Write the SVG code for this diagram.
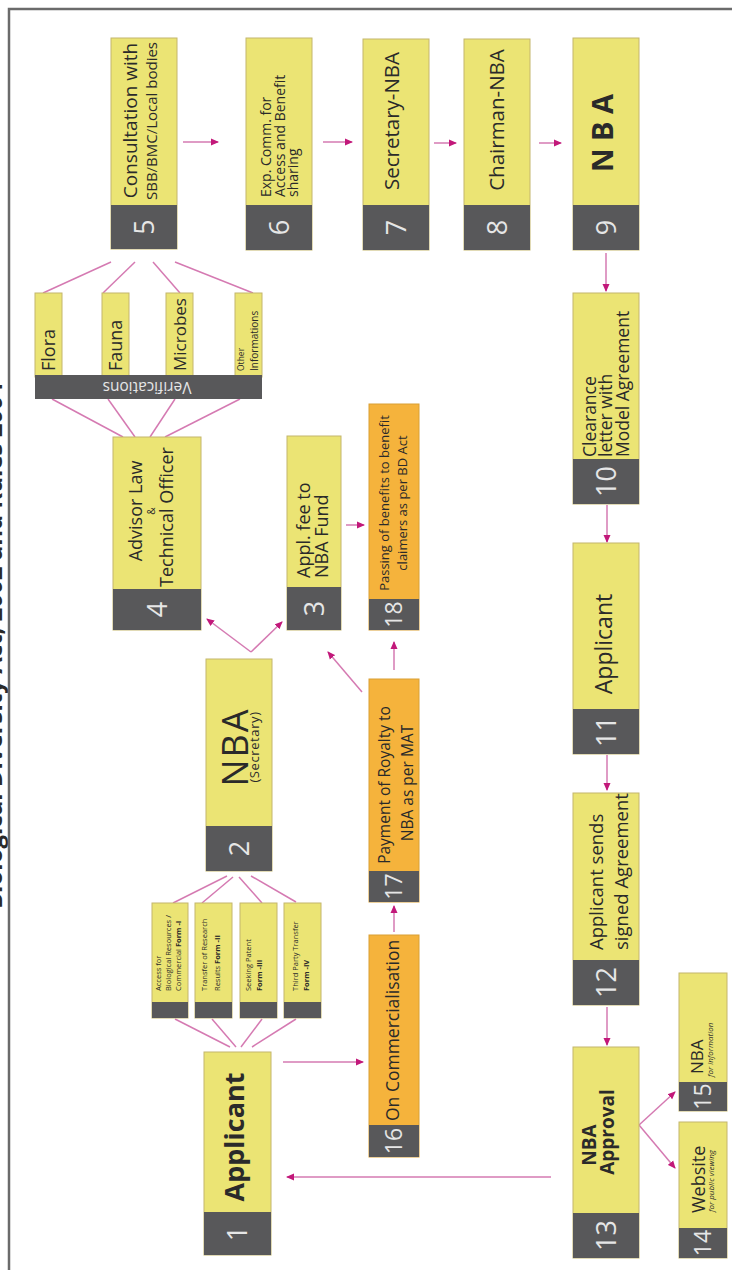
<svg xmlns="http://www.w3.org/2000/svg" width="732" height="1270" viewBox="0 0 732 1270">
<defs>
<marker id="ah" markerWidth="8" markerHeight="8" refX="7" refY="4" orient="auto" markerUnits="userSpaceOnUse">
<path d="M0,0.5 L8,4 L0,7.5 z" fill="#c2187a"/>
</marker>
<style>
.y{fill:#ebe474;stroke:#c4b66c;stroke-width:1}
.o{fill:#f5b33c;stroke:#d9a035;stroke-width:1}
.d{fill:#58585a}
.n{font-family:"Open Sans","Liberation Sans",sans-serif;fill:#e6e6e6;text-anchor:middle}
.t{font-family:"Open Sans","Liberation Sans",sans-serif;fill:#2a2a2a}
.m{text-anchor:middle}
.b{font-weight:bold}
.c{stroke:#d57ab2;stroke-width:1.5;fill:none}
.a{stroke:#d57ab2;stroke-width:1.5;fill:none;marker-end:url(#ah)}
</style>
</defs>
<rect width="732" height="1270" fill="#ffffff"/>
<text class="t b" transform="translate(1.5,909) rotate(-90)" font-size="24" fill="#1a1a1a">Biological Diversity Act, 2002 and Rules 2004</text>
<path d="M9,1275 V9 H740" fill="none" stroke="#6b6b6b" stroke-width="2.5"/>

<g id="connectors">
<line class="c" x1="111" y1="262" x2="43" y2="293"/>
<line class="c" x1="135" y1="262" x2="103" y2="293"/>
<line class="c" x1="153" y1="262" x2="180" y2="293"/>
<line class="c" x1="175" y1="262" x2="253" y2="293"/>
<line class="c" x1="52" y1="399" x2="123" y2="437"/>
<line class="c" x1="108" y1="399" x2="135" y2="437"/>
<line class="c" x1="175" y1="399" x2="150" y2="437"/>
<line class="c" x1="240" y1="399" x2="165" y2="437"/>
<line class="c" x1="227" y1="876" x2="173" y2="903"/>
<line class="c" x1="233" y1="877" x2="202" y2="903"/>
<line class="c" x1="239" y1="877" x2="262" y2="903"/>
<line class="c" x1="251" y1="876" x2="296" y2="902"/>
<line class="c" x1="175" y1="1019" x2="230" y2="1047"/>
<line class="c" x1="212" y1="1019" x2="236" y2="1047"/>
<line class="c" x1="262" y1="1019" x2="241" y2="1047"/>
<line class="c" x1="296" y1="1019" x2="252" y2="1047"/>
<line class="a" x1="251" y1="652" x2="207" y2="619"/>
<line class="a" x1="251" y1="652" x2="282" y2="622"/>
<line class="a" x1="362" y1="692" x2="328" y2="652"/>
<line class="a" x1="346" y1="525" x2="364" y2="525"/>
<line class="a" x1="283" y1="1062" x2="363" y2="1062"/>
<line class="a" x1="551" y1="1177" x2="287" y2="1177"/>
<line class="a" x1="394" y1="932" x2="394" y2="906"/>
<line class="a" x1="394" y1="670" x2="394" y2="642"/>
<line class="a" x1="183" y1="142" x2="218" y2="142"/>
<line class="a" x1="323" y1="142" x2="352" y2="142"/>
<line class="a" x1="434" y1="143" x2="456" y2="143"/>
<line class="a" x1="539" y1="143" x2="561" y2="143"/>
<line class="a" x1="606" y1="253" x2="606" y2="291"/>
<line class="a" x1="607" y1="505" x2="607" y2="542"/>
<line class="a" x1="607" y1="755" x2="607" y2="790"/>
<line class="a" x1="607" y1="1007" x2="607" y2="1045"/>
<line class="a" x1="639" y1="1125" x2="675" y2="1092"/>
<line class="a" x1="639" y1="1125" x2="675" y2="1168"/>
</g>

<g id="node1">
<rect class="y" x="204" y="1052" width="67" height="203"/>
<rect class="d" x="204" y="1212" width="67" height="43"/>
<text class="t m b" transform="translate(244,1137) rotate(-90)" font-size="27">Applicant</text>
<text class="n" transform="translate(247,1233.5) rotate(-90)" font-size="27">1</text>
</g>

<g id="node2">
<rect class="y" x="206" y="659" width="66" height="212"/>
<rect class="d" x="206" y="826" width="66" height="45"/>
<text class="t m" transform="translate(248,747) rotate(-90)" font-size="36" letter-spacing="2">NBA</text>
<text class="t m" transform="translate(259,747) rotate(-90)" font-size="13" letter-spacing="0.6">(Secretary)</text>
<text class="n" transform="translate(248.5,848.5) rotate(-90)" font-size="27">2</text>
</g>

<g id="node3">
<rect class="y" x="287" y="436" width="54" height="194"/>
<rect class="d" x="287" y="587" width="54" height="43"/>
<text class="t" transform="translate(310,578) rotate(-90)" font-size="18">Appl. fee to</text>
<text class="t" transform="translate(328,578) rotate(-90)" font-size="18">NBA Fund</text>
<text class="n" transform="translate(323.5,608.5) rotate(-90)" font-size="27">3</text>
</g>

<g id="node4">
<rect class="y" x="113" y="437" width="88" height="193"/>
<rect class="d" x="113" y="589" width="88" height="41"/>
<text class="t m" transform="translate(142,511) rotate(-90)" font-size="18">Advisor Law</text>
<text class="t m" transform="translate(155,511) rotate(-90)" font-size="10">&amp;</text>
<text class="t m" transform="translate(173,517) rotate(-90)" font-size="18">Technical Officer</text>
<text class="n" transform="translate(166.5,609.5) rotate(-90)" font-size="27">4</text>
</g>

<g id="node5">
<rect class="y" x="111" y="38" width="66" height="211"/>
<rect class="d" x="111" y="205" width="66" height="44"/>
<text class="t m" transform="translate(137,120.5) rotate(-90)" font-size="19">Consultation with</text>
<text class="t m" transform="translate(157,121) rotate(-90)" font-size="15">SBB/BMC/Local bodies</text>
<text class="n" transform="translate(153.5,227) rotate(-90)" font-size="27">5</text>
</g>

<g id="node6">
<rect class="y" x="246" y="38" width="66" height="212"/>
<rect class="d" x="246" y="205" width="66" height="45"/>
<text class="t" transform="translate(271,197) rotate(-90)" font-size="14">Exp. Comm. for</text>
<text class="t" transform="translate(285,197) rotate(-90)" font-size="14">Access and Benefit</text>
<text class="t" transform="translate(298,197) rotate(-90)" font-size="14">sharing</text>
<text class="n" transform="translate(288.5,227.5) rotate(-90)" font-size="27">6</text>
</g>

<g id="node7">
<rect class="y" x="363" y="39" width="66" height="211"/>
<rect class="d" x="363" y="205" width="66" height="45"/>
<text class="t m" transform="translate(399,121) rotate(-90)" font-size="20.5">Secretary-NBA</text>
<text class="n" transform="translate(405.5,227.5) rotate(-90)" font-size="27">7</text>
</g>

<g id="node8">
<rect class="y" x="464" y="39" width="66" height="211"/>
<rect class="d" x="464" y="205" width="66" height="45"/>
<text class="t m" transform="translate(504,120) rotate(-90)" font-size="20.5">Chairman-NBA</text>
<text class="n" transform="translate(506.5,227.5) rotate(-90)" font-size="27">8</text>
</g>

<g id="node9">
<rect class="y" x="573" y="38" width="66" height="212"/>
<rect class="d" x="573" y="205" width="66" height="45"/>
<text class="t m b" transform="translate(613,133) rotate(-90)" font-size="29">N B A</text>
<text class="n" transform="translate(615.5,227.5) rotate(-90)" font-size="27">9</text>
</g>

<g id="node10">
<rect class="y" x="573" y="293" width="66" height="211"/>
<rect class="d" x="573" y="459" width="66" height="45"/>
<text class="t" transform="translate(596,457) rotate(-90)" font-size="17.5">Clearance</text>
<text class="t" transform="translate(612,457) rotate(-90)" font-size="17.5">letter with</text>
<text class="t" transform="translate(629,457) rotate(-90)" font-size="17.5">Model Agreement</text>
<text class="n" transform="translate(615.5,481.5) rotate(-90)" font-size="27">10</text>
</g>

<g id="node11">
<rect class="y" x="573" y="543" width="66" height="211"/>
<rect class="d" x="573" y="709" width="66" height="45"/>
<text class="t m" transform="translate(612,644) rotate(-90)" font-size="23">Applicant</text>
<text class="n" transform="translate(615.5,731.5) rotate(-90)" font-size="27">11</text>
</g>

<g id="node12">
<rect class="y" x="573" y="793" width="66" height="212"/>
<rect class="d" x="573" y="960" width="66" height="45"/>
<text class="t" transform="translate(603,950) rotate(-90)" font-size="18.5">Applicant sends</text>
<text class="t" transform="translate(628,950) rotate(-90)" font-size="18.5">signed Agreement</text>
<text class="n" transform="translate(615.5,982.5) rotate(-90)" font-size="27">12</text>
</g>

<g id="node13">
<rect class="y" x="573" y="1047" width="66" height="211"/>
<rect class="d" x="573" y="1213" width="66" height="45"/>
<text class="t m b" transform="translate(596,1145) rotate(-90)" font-size="19">NBA</text>
<text class="t m b" transform="translate(614,1132) rotate(-90)" font-size="19">Approval</text>
<text class="n" transform="translate(615.5,1235.5) rotate(-90)" font-size="27">13</text>
</g>

<g id="node14">
<rect class="y" x="679" y="1122" width="48" height="136"/>
<rect class="d" x="679" y="1228" width="48" height="30"/>
<text class="t" transform="translate(705,1213) rotate(-90)" font-size="18">Website</text>
<text class="t" transform="translate(714,1212) rotate(-90)" font-size="8" font-style="italic">for public viewing</text>
<text class="n" transform="translate(711,1243) rotate(-90)" font-size="23">14</text>
</g>

<g id="node15">
<rect class="y" x="679" y="973" width="48" height="138"/>
<rect class="d" x="679" y="1082" width="48" height="29"/>
<text class="t" transform="translate(703,1074) rotate(-90)" font-size="17">NBA</text>
<text class="t" transform="translate(713,1077) rotate(-90)" font-size="8" font-style="italic">for information</text>
<text class="n" transform="translate(711,1096.5) rotate(-90)" font-size="23">15</text>
</g>

<g id="node16">
<rect class="o" x="369" y="935" width="50" height="222"/>
<rect class="d" x="369" y="1125" width="50" height="32"/>
<text class="t" transform="translate(399,1121) rotate(-90)" font-size="17.5">On Commercialisation</text>
<text class="n" transform="translate(402,1141) rotate(-90)" font-size="23">16</text>
</g>

<g id="node17">
<rect class="o" x="369" y="679" width="50" height="223"/>
<rect class="d" x="369" y="871" width="50" height="31"/>
<text class="t m" transform="translate(390,785) rotate(-90)" font-size="15.5">Payment of Royalty to</text>
<text class="t m" transform="translate(413,783) rotate(-90)" font-size="15.5">NBA as per MAT</text>
<text class="n" transform="translate(402,886.5) rotate(-90)" font-size="23">17</text>
</g>

<g id="node18">
<rect class="o" x="369" y="404" width="50" height="226"/>
<rect class="d" x="369" y="599" width="50" height="31"/>
<text class="t m" transform="translate(389,503) rotate(-90)" font-size="13">Passing of benefits to benefit</text>
<text class="t m" transform="translate(407,503) rotate(-90)" font-size="13">claimers as per BD Act</text>
<text class="n" transform="translate(402,614.5) rotate(-90)" font-size="23">18</text>
</g>

<g id="form1">
<rect class="y" x="152" y="903" width="36" height="115"/>
<rect class="d" x="152" y="1002" width="36" height="16"/>
<text class="t" transform="translate(161,991) rotate(-90)" font-size="7.5">Access for</text>
<text class="t" transform="translate(171,991) rotate(-90)" font-size="7.5">Biological Resources /</text>
<text class="t" transform="translate(181,991) rotate(-90)" font-size="7.5">Commercial <tspan class="b">Form -I</tspan></text>
</g>
<g id="form2">
<rect class="y" x="195" y="903" width="37" height="115"/>
<rect class="d" x="195" y="1002" width="37" height="16"/>
<text class="t" transform="translate(207,991) rotate(-90)" font-size="7.5">Transfer of Research</text>
<text class="t" transform="translate(220,991) rotate(-90)" font-size="7.5">Results <tspan class="b">Form -II</tspan></text>
</g>
<g id="form3">
<rect class="y" x="240" y="903" width="37" height="115"/>
<rect class="d" x="240" y="1002" width="37" height="16"/>
<text class="t" transform="translate(251,991) rotate(-90)" font-size="7.5">Seeking Patent</text>
<text class="t b" transform="translate(262,991) rotate(-90)" font-size="7.5">Form -III</text>
</g>
<g id="form4">
<rect class="y" x="284" y="903" width="37" height="115"/>
<rect class="d" x="284" y="1002" width="37" height="16"/>
<text class="t" transform="translate(298,991) rotate(-90)" font-size="7.5">Third Party Transfer</text>
<text class="t b" transform="translate(309,991) rotate(-90)" font-size="7.5">Form -IV</text>
</g>

<g id="verifications">
<rect class="y" x="35" y="293" width="27" height="84"/>
<rect class="y" x="102" y="293" width="27" height="84"/>
<rect class="y" x="166" y="293" width="27" height="84"/>
<rect class="y" x="235" y="293" width="27" height="84"/>
<rect class="d" x="35" y="375" width="227" height="24"/>
<text class="t" transform="translate(55,371) rotate(-90)" font-size="18">Flora</text>
<text class="t" transform="translate(122,371) rotate(-90)" font-size="18">Fauna</text>
<text class="t" transform="translate(186,371) rotate(-90)" font-size="17">Microbes</text>
<text class="t" transform="translate(244,371) rotate(-90)" font-size="8.5">Other</text>
<text class="t" transform="translate(258,371) rotate(-90)" font-size="10">Informations</text>
<text class="n" transform="translate(147,382) rotate(180)" font-size="15.5">Verifications</text>
</g>
</svg>
